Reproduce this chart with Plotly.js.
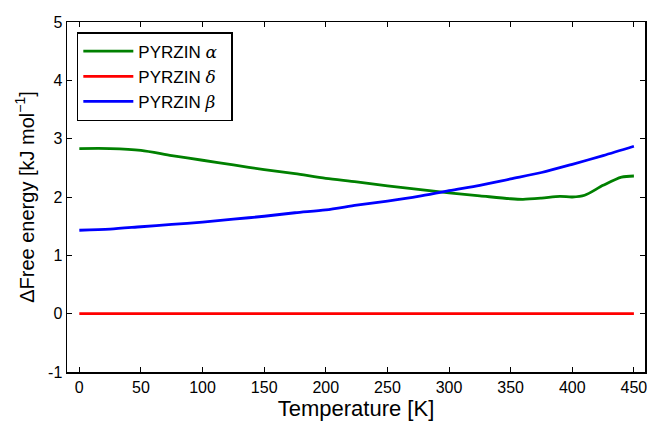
<!DOCTYPE html>
<html>
<head>
<meta charset="utf-8">
<script src="https://cdn.plot.ly/plotly-3.0.1.min.js"></script>
<style>html,body{margin:0;padding:0;background:#fff;}#chart{width:647px;height:425px;}</style>
</head>
<body>
<div id="chart"></div>
<script>
// Temperature [K]
const tAlpha = [0, 25, 50, 75, 100, 125, 150, 175, 200, 225, 250, 275, 300, 325, 350, 360, 375, 390, 400, 410, 425, 440, 450];
const gAlpha = [2.83, 2.83, 2.80, 2.71, 2.63, 2.55, 2.47, 2.40, 2.32, 2.26, 2.19, 2.13, 2.07, 2.02, 1.97, 1.96, 1.98, 2.01, 2.00, 2.03, 2.20, 2.34, 2.36];
const tDelta = [0, 450];
const gDelta = [0, 0];
const tBeta = [0, 25, 50, 75, 100, 125, 150, 175, 200, 225, 250, 275, 300, 325, 350, 375, 400, 425, 450];
const gBeta = [1.43, 1.45, 1.49, 1.53, 1.57, 1.62, 1.67, 1.73, 1.78, 1.86, 1.93, 2.01, 2.11, 2.20, 2.31, 2.42, 2.56, 2.71, 2.87];
const names = ["PYRZIN <span style='font-family:DejaVu Serif'><i>α</i></span>\u00a0\u00a0",
               "PYRZIN <span style='font-family:DejaVu Serif'><i>δ</i></span>\u00a0\u00a0",
               "PYRZIN <span style='font-family:DejaVu Serif'><i>β</i></span>\u00a0\u00a0"];
const xTicks = [0, 50, 100, 150, 200, 250, 300, 350, 400, 450];
const yTicks = [-1, 0, 1, 2, 3, 4, 5];
const yTickText = ["-1", "0", "1", "2", "3", "4", "5"];

const font = "Liberation Sans, Arial, sans-serif";
const traces = [
  {x: tAlpha, y: gAlpha, name: names[0], mode: "lines", line: {color: "#008000", width: 2.8, shape: "spline", smoothing: 0.8}},
  {x: tDelta, y: gDelta, name: names[1], mode: "lines", line: {color: "#ff0000", width: 2.8}},
  {x: tBeta, y: gBeta, name: names[2], mode: "lines", line: {color: "#0000ff", width: 2.8, shape: "spline", smoothing: 0.8}}
];
const axisCommon = {
  showgrid: false, zeroline: false, showline: true, linecolor: "#000", linewidth: 1.5,
  mirror: "allticks", ticks: "inside", ticklen: 5, tickwidth: 1, tickcolor: "#000",
  ticklabeloverflow: "allow",
  tickfont: {family: font, size: 16, color: "#000"}
};
const layout = {
  width: 647, height: 425,
  margin: {l: 67, r: 2, t: 22, b: 53},
  paper_bgcolor: "#fff", plot_bgcolor: "#fff",
  font: {family: font, color: "#000"},
  xaxis: Object.assign({}, axisCommon, {
    range: [-10, 459], tickvals: xTicks,
    title: {text: "Temperature [K]", font: {family: font, size: 22, color: "#000"}, standoff: 5}
  }),
  yaxis: Object.assign({}, axisCommon, {
    range: [-1, 5], tickvals: yTicks, ticktext: yTickText,
    title: {text: "ΔFree energy [kJ mol<sup>−1</sup>]", font: {family: font, size: 20, color: "#000"}, standoff: 8}
  }),
  legend: {
    x: 0.017, y: 0.971, xanchor: "left", yanchor: "top",
    bordercolor: "#000", borderwidth: 1.5, bgcolor: "#fff",
    itemwidth: 50,
    font: {family: font, size: 17, color: "#000"}
  },
  showlegend: true
};
Plotly.newPlot("chart", traces, layout, {displayModeBar: false, staticPlot: true});
</script>
</body>
</html>
